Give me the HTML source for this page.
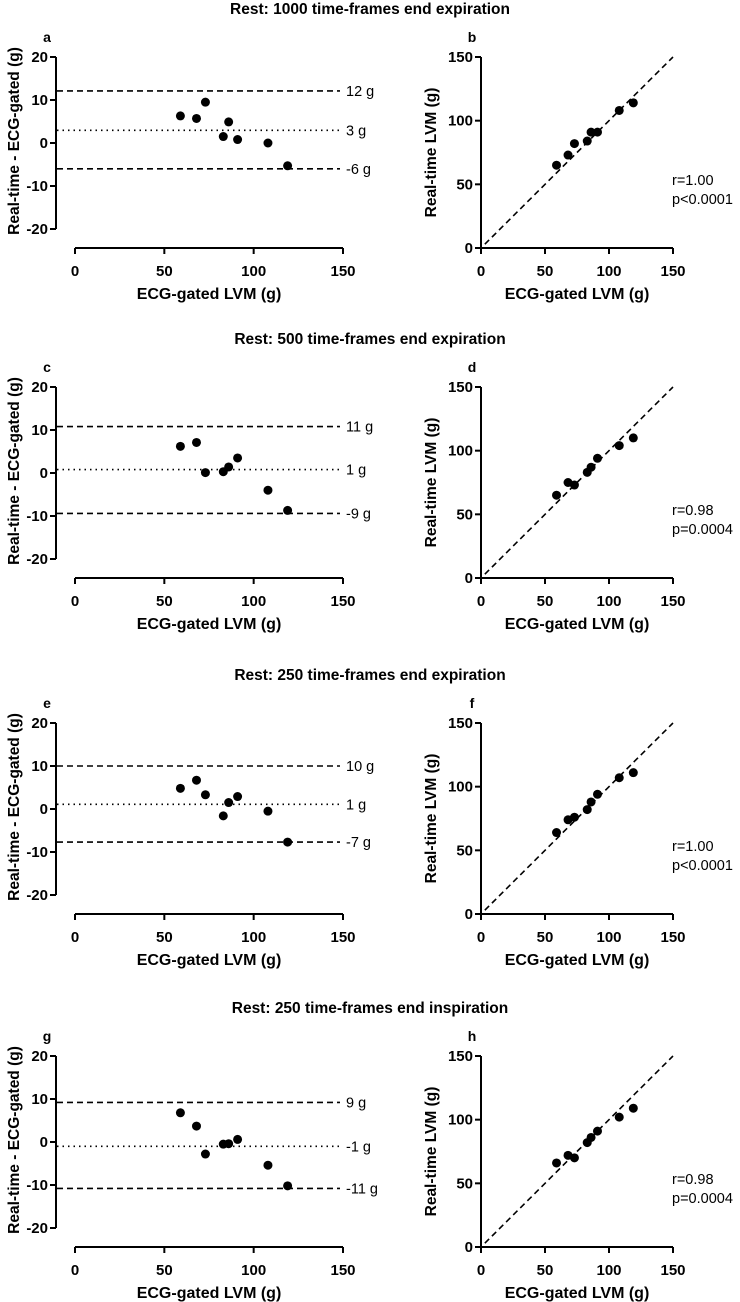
<!DOCTYPE html>
<html><head><meta charset="utf-8">
<style>
body{margin:0;background:#fff;}
svg{display:block;font-family:"Liberation Sans",Arial,sans-serif;}
</style></head>
<body>
<svg id="fig" width="740" height="1302" viewBox="0 0 740 1302"></svg>
<script>
const xVals = [59, 68, 73, 83, 86, 91, 108, 119];
const diffA = [6.3, 5.7, 9.5, 1.5, 4.9, 0.8, 0.0, -5.3];
const diffC = [6.2, 7.1, 0.1, 0.3, 1.4, 3.5, -4.0, -8.7];
const diffE = [4.8, 6.7, 3.3, -1.6, 1.5, 2.9, -0.5, -7.7];
const diffG = [6.8, 3.7, -2.8, -0.5, -0.4, 0.6, -5.4, -10.2];
const realB = [65, 73, 82, 84, 91, 91, 108, 114];
const realD = [65, 75, 73, 83, 87, 94, 104, 110];
const realF = [64, 74, 76, 82, 88, 94, 107, 111];
const realH = [66, 72, 70, 82, 86, 91, 102, 109];
const upperLoA = [12.1, 10.8, 10.0, 9.2];
const biasLoA = [2.95, 0.8, 1.1, -1.0];
const lowerLoA = [-6.0, -9.4, -7.7, -10.8];
const upperLabels = ["12 g", "11 g", "10 g", "9 g"];
const biasLabels = ["3 g", "1 g", "1 g", "-1 g"];
const lowerLabels = ["-6 g", "-9 g", "-7 g", "-11 g"];
const rowTitles = ["Rest: 1000 time-frames end expiration","Rest: 500 time-frames end expiration","Rest: 250 time-frames end expiration","Rest: 250 time-frames end inspiration"];
const rStats = ["r=1.00","r=0.98","r=1.00","r=0.98"];
const pStats = ["p<0.0001","p=0.0004","p<0.0001","p=0.0004"];
const leftLetters = ["a","c","e","g"];
const rightLetters = ["b","d","f","h"];
const diffTicks = [20, 10, 0, -10, -20];
const xTicks = [0, 50, 100, 150];
const realTicks = [0, 50, 100, 150];

const diffSeries = [diffA, diffC, diffE, diffG];
const realSeries = [realB, realD, realF, realH];
const rowOffsets = [0, 330, 666, 999];
const NS = "http://www.w3.org/2000/svg";
const svg = document.getElementById("fig");

function mk(tag, attrs, parent, text){
  const e = document.createElementNS(NS, tag);
  for (const k in attrs) e.setAttribute(k, attrs[k]);
  if (text !== undefined) e.textContent = text;
  (parent || svg).appendChild(e);
  return e;
}

for (let r = 0; r < 4; r++) {
  const off = rowOffsets[r];
  const g = mk("g", {});
  
  
  const t = mk("text", {x: 370, y: 14 + off, "text-anchor": "middle", "font-size": 15.5, "font-weight": "bold"}, g, rowTitles[r]);
  
  

  // ---------- Left Bland-Altman panel ----------
  const lx = v => 75 + v * (268 / 150);
  const ly = v => 143 + off - v * 4.3;
  const L = mk("g", {}, g);
  
  
  const ll = mk("text", {x: 47, y: 42 + off, "text-anchor": "middle", "font-size": 14, "font-weight": "bold"}, L, leftLetters[r]);
  
  
  const ya = mk("line", {x1: 56, y1: ly(20), x2: 56, y2: ly(-20), stroke: "#000", "stroke-width": 2}, L);
  
  
  diffTicks.forEach(v => {
    mk("line", {x1: 50, y1: ly(v), x2: 56, y2: ly(v), stroke: "#000", "stroke-width": 2}, L);
    const tl = mk("text", {x: 48, y: ly(v) + 5, "text-anchor": "end", "font-size": 15, "font-weight": "bold"}, L, String(v));
    
    
  });
  const yt = mk("text", {x: 0, y: 0, transform: `translate(19,${141 + off}) rotate(-90)`, "text-anchor": "middle", "font-size": 15.5, "font-weight": "bold"}, L, "Real-time - ECG-gated (g)");
  
  
  const axY = 248 + off;
  const xa = mk("line", {x1: lx(0), y1: axY, x2: lx(150), y2: axY, stroke: "#000", "stroke-width": 2}, L);
  
  
  xTicks.forEach(v => {
    mk("line", {x1: lx(v), y1: axY, x2: lx(v), y2: axY + 6, stroke: "#000", "stroke-width": 2}, L);
    const tl = mk("text", {x: lx(v), y: axY + 28, "text-anchor": "middle", "font-size": 15, "font-weight": "bold"}, L, String(v));
    
    
  });
  const xt = mk("text", {x: 209, y: axY + 51, "text-anchor": "middle", "font-size": 16, "font-weight": "bold"}, L, "ECG-gated LVM (g)");
  
  
  const lines = [[upperLoA[r], upperLabels[r], "6,4", "upper-limit"], [biasLoA[r], biasLabels[r], "1.5,4", "mean-bias"], [lowerLoA[r], lowerLabels[r], "6,4", "lower-limit"]];
  lines.forEach(([v, lab, dash, nm]) => {
    const ln = mk("line", {x1: 57, y1: ly(v), x2: 340, y2: ly(v), stroke: "#000", "stroke-width": 1.6, "stroke-dasharray": dash}, L);
    
    
    const lt = mk("text", {x: 346, y: ly(v) + 5, "font-size": 14.5}, L, lab);
    
    
  });
  xVals.forEach((xv, i) => {
    const c = mk("circle", {cx: lx(xv), cy: ly(diffSeries[r][i]), r: 4.5, fill: "#000"}, L);
    
    
  });

  // ---------- Right correlation panel ----------
  const rx = v => 481 + v * (192 / 150);
  const ry = v => 248 + off - v * (191 / 150);
  const R = mk("g", {}, g);
  
  
  const rl = mk("text", {x: 472, y: 42 + off, "text-anchor": "middle", "font-size": 14, "font-weight": "bold"}, R, rightLetters[r]);
  
  
  const rya = mk("line", {x1: 481, y1: ry(150), x2: 481, y2: ry(0) + 1, stroke: "#000", "stroke-width": 2}, R);
  
  
  const rxa = mk("line", {x1: 480, y1: ry(0), x2: rx(150), y2: ry(0), stroke: "#000", "stroke-width": 2}, R);
  
  
  realTicks.forEach(v => {
    mk("line", {x1: 475, y1: ry(v), x2: 481, y2: ry(v), stroke: "#000", "stroke-width": 2}, R);
    const tl = mk("text", {x: 473, y: ry(v) + 5, "text-anchor": "end", "font-size": 15, "font-weight": "bold"}, R, String(v));
    
    
  });
  xTicks.forEach(v => {
    mk("line", {x1: rx(v), y1: ry(0), x2: rx(v), y2: ry(0) + 6, stroke: "#000", "stroke-width": 2}, R);
    const tl = mk("text", {x: rx(v), y: ry(0) + 28, "text-anchor": "middle", "font-size": 15, "font-weight": "bold"}, R, String(v));
    
    
  });
  const ryt = mk("text", {x: 0, y: 0, transform: `translate(436,${ry(75)}) rotate(-90)`, "text-anchor": "middle", "font-size": 15.5, "font-weight": "bold"}, R, "Real-time LVM (g)");
  
  
  const rxt = mk("text", {x: 577, y: ry(0) + 51, "text-anchor": "middle", "font-size": 16, "font-weight": "bold"}, R, "ECG-gated LVM (g)");
  
  
  const id = mk("line", {x1: rx(3), y1: ry(3), x2: rx(150), y2: ry(150), stroke: "#000", "stroke-width": 1.6, "stroke-dasharray": "6,4"}, R);
  
  
  xVals.forEach((xv, i) => {
    const c = mk("circle", {cx: rx(xv), cy: ry(realSeries[r][i]), r: 4.5, fill: "#000"}, R);
    
    
  });
  const rs = mk("text", {x: 672, y: 185 + off, "font-size": 14.5}, R, rStats[r]);
  
  
  const ps = mk("text", {x: 672, y: 204 + off, "font-size": 14.5}, R, pStats[r]);
  
  
}
</script>
</body></html>
